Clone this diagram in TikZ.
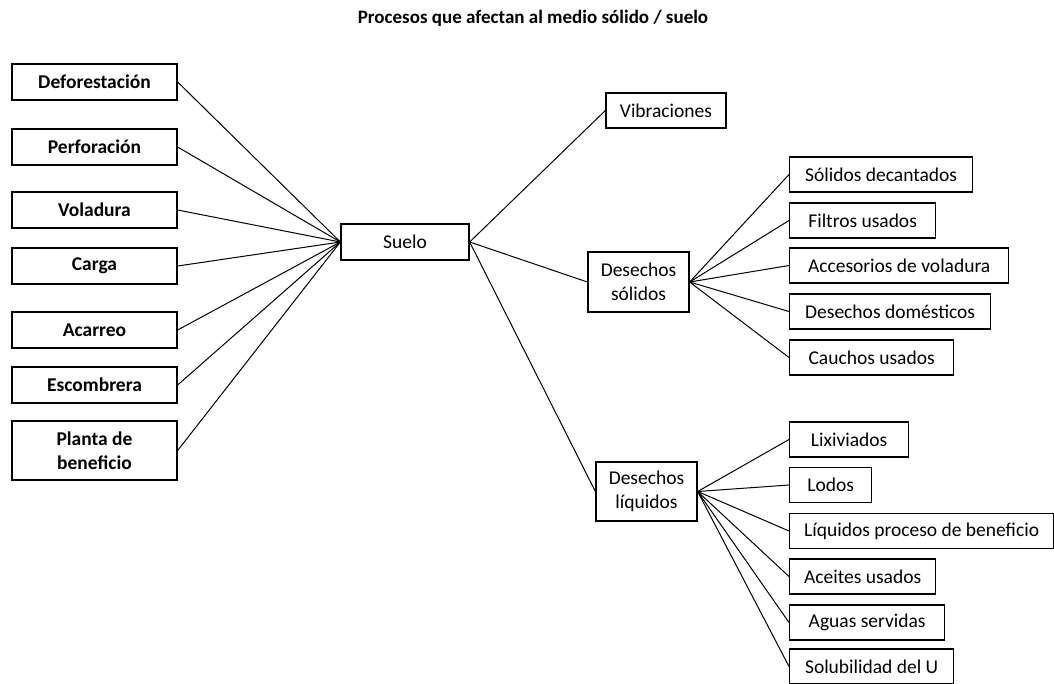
\documentclass[tikz,border=0pt]{standalone}
\usepackage{fontspec}
\setmainfont{Carlito}
\usetikzlibrary{positioning}
\tikzset{
  px/.style={x=1pt, y=-1pt},
  proc/.style={draw=black, line width=1.3pt, minimum height=36pt, minimum width=165pt, inner sep=2pt, align=center, font=\fontsize{19.5}{23.5}\selectfont\bfseries},
  hub/.style={draw=black, line width=1.3pt, inner sep=2pt, align=center, font=\fontsize{19.5}{23.5}\selectfont},
  leaf/.style={hub, anchor=west, minimum height=35pt},
  link/.style={line width=1pt, black},
  title/.style={font=\fontsize{19}{23}\selectfont\bfseries}
}

\begin{document}
\begin{tikzpicture}[px]
  \fill[white] (0,0) rectangle (1054,683);
  \useasboundingbox (0,0) rectangle (1054,683);
  \node[title] (titulo) at (533,18) {Procesos que afectan al medio sólido / suelo};
  % centre
  \node[hub, minimum width=128pt, minimum height=36pt] (suelo) at (405,242) {Suelo};
  % processes on the left
  \foreach \n/\y/\t in {def/82/Deforestación, perf/147/Perforación, vol/210/Voladura,
      carga/266/Carga, acar/330/Acarreo, esc/385/Escombrera}{
    \node[proc] (\n) at (94.5,\y) {\t};
    \draw[link] (\n.east) -- (suelo.west);
  }
  \node[proc, minimum height=59pt] (planta) at (94.5,450.5) {Planta de\\beneficio};
  \draw[link] (planta.east) -- (suelo.west);
  % branches on the right
  \node[hub, minimum width=120pt, minimum height=35pt] (vib) at (666,110.5) {Vibraciones};
  \node[hub, minimum width=101pt, minimum height=60pt] (ds) at (638.5,282) {Desechos\\sólidos};
  \node[hub, minimum width=101pt, minimum height=59pt] (dl) at (646.5,491.5) {Desechos\\líquidos};
  \draw[link] (suelo.east) -- (vib.west);
  \draw[link] (suelo.east) -- (ds.west);
  \draw[link] (suelo.east) -- (dl.west);
  % solid wastes
  \foreach \n/\y/\w/\t in {a/174.5/183/Sólidos decantados, b/220.5/146/Filtros usados,
      c/265.5/219/Accesorios de voladura, d/311.5/201/Desechos domésticos,
      e/357.5/164/Cauchos usados}{
    \node[leaf, minimum width=\w pt] (s\n) at (789,\y) {\t};
    \draw[link] (ds.east) -- (s\n.west);
  }
  % liquid wastes
  \foreach \n/\y/\w/\t in {a/439.5/119/Lixiviados, b/485/82/Lodos,
      c/531/264/Líquidos proceso de beneficio, d/576.5/146/Aceites usados,
      e/622.5/155/Aguas servidas, f/666.5/164/Solubilidad del U}{
    \node[leaf, minimum width=\w pt] (l\n) at (789,\y) {\t};
    \draw[link] (dl.east) -- (l\n.west);
  }
\end{tikzpicture}
\end{document}
